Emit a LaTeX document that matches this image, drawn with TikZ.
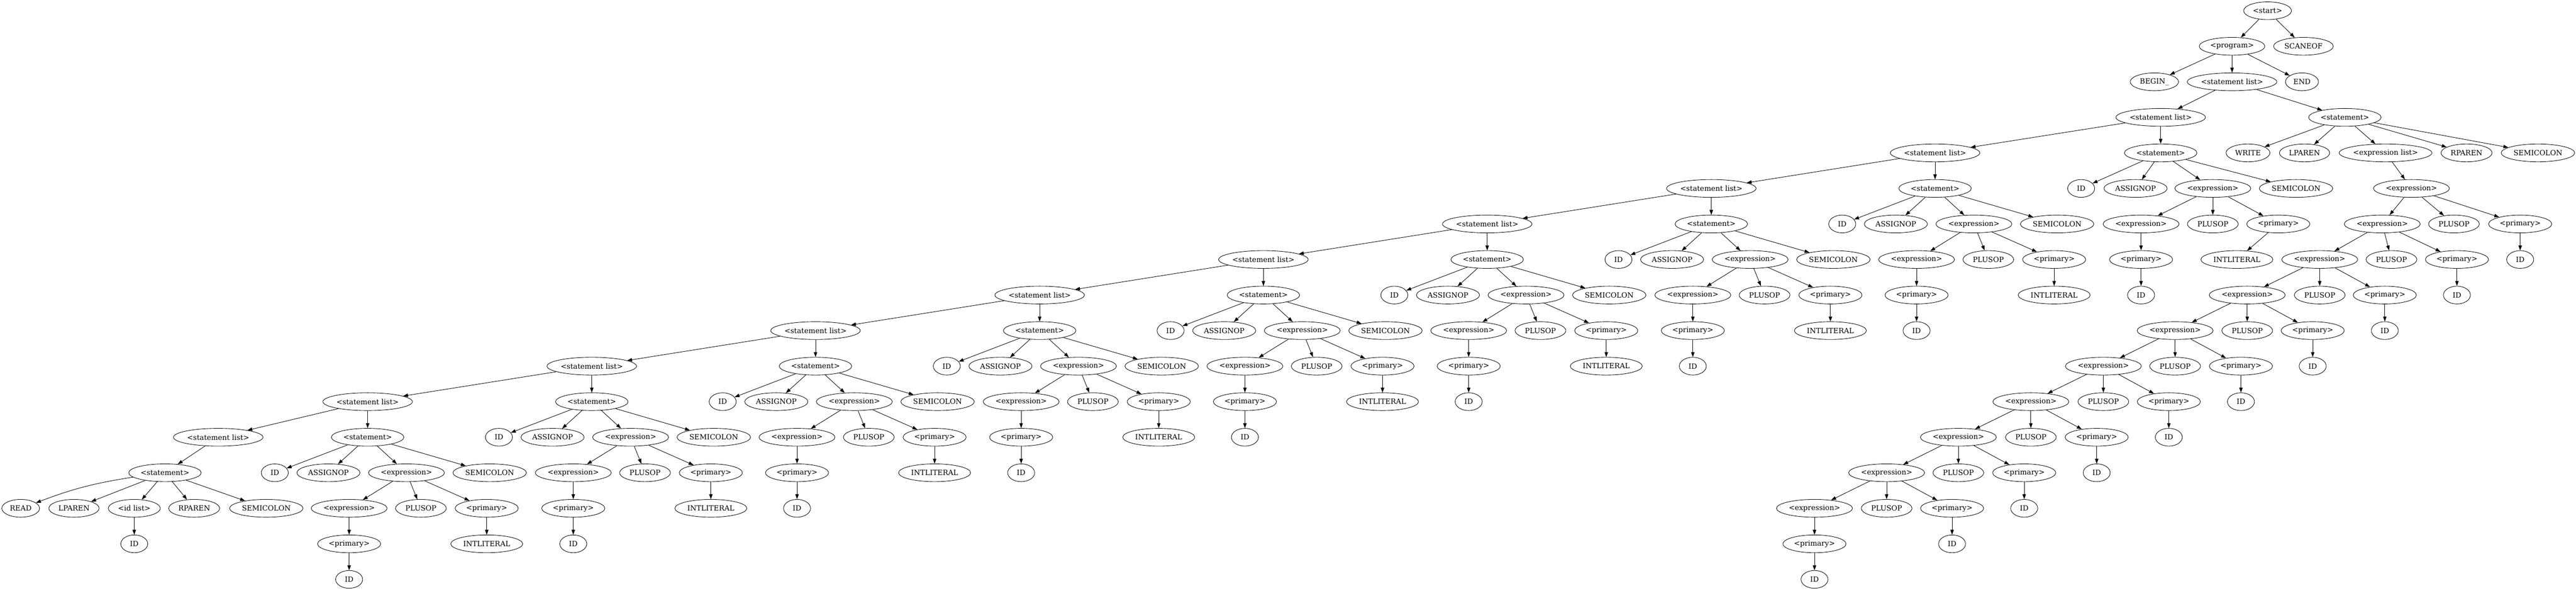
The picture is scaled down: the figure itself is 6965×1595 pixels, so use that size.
\documentclass[tikz,border=0pt]{standalone}
\usepackage{fontspec}
\setmainfont{DejaVu Serif}
\usetikzlibrary{shapes.geometric,arrows.meta}
\newcommand\ry[1]{29+96*(#1)}
\tikzset{
  nd/.style={draw, ellipse, inner sep=0pt, minimum height=36pt, line width=0.9pt,
             font=\fontsize{14.6pt}{16pt}\selectfont},
  slist/.style={nd, minimum width=181.5pt},
  stmt/.style={nd, minimum width=147pt},
  semi/.style={nd, minimum width=149pt},
  idn/.style={nd, minimum width=54.75pt},
  expr/.style={nd, minimum width=154pt},
  prim/.style={nd, minimum width=128pt},
  plus/.style={nd, minimum width=103pt},
  intl/.style={nd, minimum width=146pt},
  asg/.style={nd, minimum width=128pt},
  wrt/.style={nd, minimum width=89pt},
  lpar/.style={nd, minimum width=102pt},
  rpar/.style={nd, minimum width=103.5pt},
  elist/.style={nd, minimum width=188pt},
  bgn/.style={nd, minimum width=98pt},
  endk/.style={nd, minimum width=67pt},
  scan/.style={nd, minimum width=121pt},
  prg/.style={nd, minimum width=133pt},
  strt/.style={nd, minimum width=97pt},
  rd/.style={nd, minimum width=76.5pt},
  idl/.style={nd, minimum width=105.5pt},
  edge/.style={-{Triangle[length=10pt,width=7pt]}, line width=0.9pt}
}
% assignment statement: name, x, row
\newcommand\mkassign[3]{%
  \node[stmt] (#1) at ({#2},{\ry{#3}}) {<statement>};
  \node[idn]  (#1id) at ({#2-251},{\ry{#3+1}}) {ID};
  \node[asg]  (#1as) at ({#2-106},{\ry{#3+1}}) {ASSIGNOP};
  \node[expr] (#1ex) at ({#2+105},{\ry{#3+1}}) {<expression>};
  \node[semi] (#1sc) at ({#2+330},{\ry{#3+1}}) {SEMICOLON};
  \node[expr] (#1sub) at ({#2-50},{\ry{#3+2}}) {<expression>};
  \node[plus] (#1pl) at ({#2+144},{\ry{#3+2}}) {PLUSOP};
  \node[prim] (#1pr) at ({#2+322},{\ry{#3+2}}) {<primary>};
  \node[prim] (#1sp) at ({#2-50},{\ry{#3+3}}) {<primary>};
  \node[intl] (#1il) at ({#2+322},{\ry{#3+3}}) {INTLITERAL};
  \node[idn]  (#1si) at ({#2-50},{\ry{#3+4}}) {ID};
  \draw[edge] (#1) -- (#1id);
  \draw[edge] (#1) -- (#1as);
  \draw[edge] (#1) -- (#1ex);
  \draw[edge] (#1) -- (#1sc);
  \draw[edge] (#1ex) -- (#1sub);
  \draw[edge] (#1ex) -- (#1pl);
  \draw[edge] (#1ex) -- (#1pr);
  \draw[edge] (#1sub) -- (#1sp);
  \draw[edge] (#1sp) -- (#1si);
  \draw[edge] (#1pr) -- (#1il);
}
\begin{document}
\begin{tikzpicture}[x=0.75pt,y=-0.75pt]
\useasboundingbox (0,0) rectangle (6965,1595);
% top
\node[strt] (start) at (6131,{\ry{0}}) {<start>};
\node[prg] (prog) at (6035,{\ry{1}}) {<program>};
\node[scan] (scan) at (6228,{\ry{1}}) {SCANEOF};
\node[bgn] (begin) at (5825,{\ry{2}}) {BEGIN\_};
\node[slist] (L0) at (6035,{\ry{2}}) {<statement list>};
\node[endk] (endn) at (6224,{\ry{2}}) {END};
\draw[edge] (start) -- (prog);
\draw[edge] (start) -- (scan);
\draw[edge] (prog) -- (begin);
\draw[edge] (prog) -- (L0);
\draw[edge] (prog) -- (endn);
% statement list chain
\node[slist] (A) at (5842,{\ry{3}}) {<statement list>};
\node[slist] (B) at (5232,{\ry{4}}) {<statement list>};
\node[slist] (C) at (4627,{\ry{5}}) {<statement list>};
\node[slist] (D) at (4021,{\ry{6}}) {<statement list>};
\node[slist] (E) at (3416,{\ry{7}}) {<statement list>};
\node[slist] (F) at (2811,{\ry{8}}) {<statement list>};
\node[slist] (G) at (2205,{\ry{9}}) {<statement list>};
\node[slist] (H) at (1600,{\ry{10}}) {<statement list>};
\node[slist] (I) at (994,{\ry{11}}) {<statement list>};
\node[slist] (J) at (590,{\ry{12}}) {<statement list>};
\draw[edge] (L0) -- (A);
\draw[edge] (A) -- (B);
\draw[edge] (B) -- (C);
\draw[edge] (C) -- (D);
\draw[edge] (D) -- (E);
\draw[edge] (E) -- (F);
\draw[edge] (F) -- (G);
\draw[edge] (G) -- (H);
\draw[edge] (H) -- (I);
\draw[edge] (I) -- (J);
% statement SA (special layout)
\node[stmt] (SA) at (5842,{\ry{4}}) {<statement>};
\node[idn] (SAid) at (5627,{\ry{5}}) {ID};
\node[asg] (SAas) at (5774,{\ry{5}}) {ASSIGNOP};
\node[expr] (SAex) at (5983,{\ry{5}}) {<expression>};
\node[semi] (SAsc) at (6208,{\ry{5}}) {SEMICOLON};
\node[expr] (SAsub) at (5789,{\ry{6}}) {<expression>};
\node[plus] (SApl) at (5983,{\ry{6}}) {PLUSOP};
\node[prim] (SApr) at (6160,{\ry{6}}) {<primary>};
\node[prim] (SAsp) at (5789,{\ry{7}}) {<primary>};
\node[intl] (SAil) at (6048,{\ry{7}}) {INTLITERAL};
\node[idn] (SAsi) at (5789,{\ry{8}}) {ID};
\draw[edge] (A) -- (SA);
\draw[edge] (SA) -- (SAid);
\draw[edge] (SA) -- (SAas);
\draw[edge] (SA) -- (SAex);
\draw[edge] (SA) -- (SAsc);
\draw[edge] (SAex) -- (SAsub);
\draw[edge] (SAex) -- (SApl);
\draw[edge] (SAex) -- (SApr);
\draw[edge] (SAsub) -- (SAsp);
\draw[edge] (SAsp) -- (SAsi);
\draw[edge] (SApr) -- (SAil);
% other assignment statements
\mkassign{SB}{5232}{5}
\mkassign{SC}{4627}{6}
\mkassign{SD}{4021}{7}
\mkassign{SE}{3416}{8}
\mkassign{SF}{2811}{9}
\mkassign{SG}{2205}{10}
\mkassign{SH}{1600}{11}
\mkassign{SI}{994}{12}
\draw[edge] (B) -- (SB);
\draw[edge] (C) -- (SC);
\draw[edge] (D) -- (SD);
\draw[edge] (E) -- (SE);
\draw[edge] (F) -- (SF);
\draw[edge] (G) -- (SG);
\draw[edge] (H) -- (SH);
\draw[edge] (I) -- (SI);
% read statement
\node[stmt] (SJ) at (446,{\ry{13}}) {<statement>};
\node[rd] (SJrd) at (56,{\ry{14}}) {READ};
\node[lpar] (SJlp) at (200,{\ry{14}}) {LPAREN};
\node[idl] (SJil) at (363,{\ry{14}}) {<id list>};
\node[rpar] (SJrp) at (525,{\ry{14}}) {RPAREN};
\node[semi] (SJsc) at (720,{\ry{14}}) {SEMICOLON};
\node[idn] (SJid) at (363,{\ry{15}}) {ID};
\draw[edge] (J) -- (SJ);
\draw[edge] (SJ) to[bend right=6] (SJrd);
\draw[edge] (SJ) -- (SJlp);
\draw[edge] (SJ) -- (SJil);
\draw[edge] (SJ) -- (SJrp);
\draw[edge] (SJ) -- (SJsc);
\draw[edge] (SJil) -- (SJid);
% write statement
\node[stmt] (W) at (6340,{\ry{3}}) {<statement>};
\draw[edge] (L0) -- (W);
\node[wrt] (Wwr) at (6078,{\ry{4}}) {WRITE};
\node[lpar] (Wlp) at (6231,{\ry{4}}) {LPAREN};
\node[elist] (Wel) at (6450,{\ry{4}}) {<expression list>};
\node[rpar] (Wrp) at (6669,{\ry{4}}) {RPAREN};
\node[semi] (Wsc) at (6862,{\ry{4}}) {SEMICOLON};
\draw[edge] (W) -- (Wwr);
\draw[edge] (W) -- (Wlp);
\draw[edge] (W) -- (Wel);
\draw[edge] (W) -- (Wrp);
\draw[edge] (W) -- (Wsc);
\node[expr] (X5) at (6520,{\ry{5}}) {<expression>};
\draw[edge] (Wel) -- (X5);
% chain: expression children
\foreach \k/\ex/\px/\qx [remember=\k as \prev (initially 5)] in
  {6/6441/6635/6814, 7/6272/6466/6643, 8/6076/6272/6448, 9/5881/6076/6253,
   10/5687/5881/6059, 11/5491/5687/5864, 12/5295/5491/5669, 13/5101/5295/5473,
   14/4906/5101/5278}{
  \node[expr] (X\k) at (\ex,{\ry{\k}}) {<expression>};
  \node[plus] (P\k) at (\px,{\ry{\k}}) {PLUSOP};
  \node[prim] (Q\k) at (\qx,{\ry{\k}}) {<primary>};
  \node[idn] (Z\k) at (\qx,{\ry{\k+1}}) {ID};
  \draw[edge] (X\prev) -- (X\k);
  \draw[edge] (X\prev) -- (P\k);
  \draw[edge] (X\prev) -- (Q\k);
  \draw[edge] (Q\k) -- (Z\k);
}
\node[prim] (Q15) at (4906,{\ry{15}}) {<primary>};
\node[idn] (Z15) at (4906,{\ry{16}}) {ID};
\draw[edge] (X14) -- (Q15);
\draw[edge] (Q15) -- (Z15);
\end{tikzpicture}
\end{document}
